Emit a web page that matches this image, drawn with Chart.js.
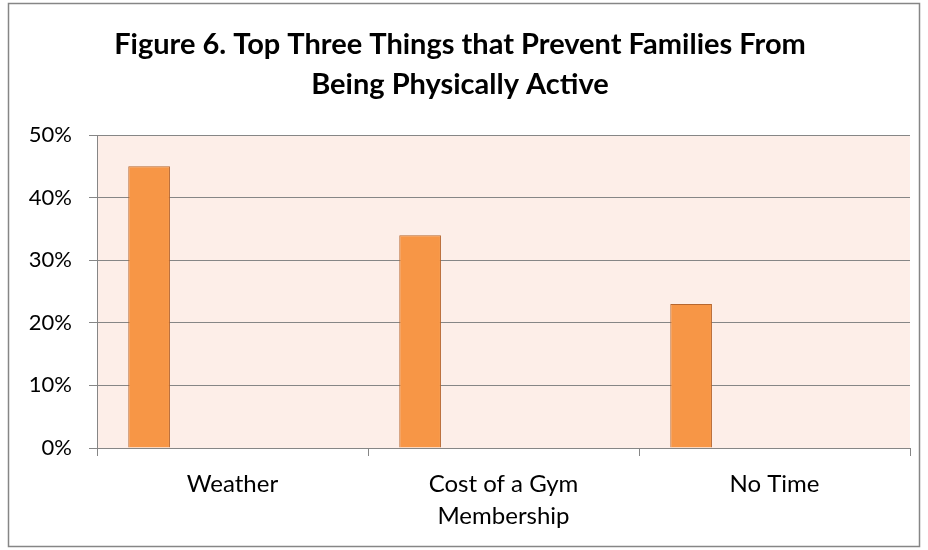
<!DOCTYPE html>
<html><head><meta charset="utf-8">
<script src="https://cdn.jsdelivr.net/npm/chart.js@4/dist/chart.umd.min.js"></script>
<style>html,body{margin:0;padding:0;background:#fff}#wrap{width:928px;height:550px}</style>
</head><body><div id="wrap"><canvas id="c" width="928" height="550"></canvas></div>
<script>
const titleLines = ['Figure 6. Top Three Things that Prevent Families From', 'Being Physically Active'];
const categories = ['Weather', ['Cost of a Gym', 'Membership'], 'No Time'];
const percentValues = [45, 34, 23];
const emptySeries = [null, null, null];
const yMin = 0, yMax = 50, yStep = 10;

const FONT = 'Lato, "Open Sans", sans-serif';

const framePlugin = {
  id: 'frame',
  beforeDraw(chart) {
    const {ctx, chartArea: a, width, height} = chart;
    ctx.save();
    ctx.fillStyle = '#ffffff';
    ctx.fillRect(0, 0, width, height);
    ctx.fillStyle = '#FDEEE8';
    ctx.fillRect(a.left, a.top, a.right - a.left, a.bottom - a.top);
    ctx.strokeStyle = '#868686';
    ctx.lineWidth = 1.5;
    ctx.strokeRect(8.5, 3.5, 911, 543);
    ctx.restore();
  }
};

const barStyle = {backgroundColor: '#F79646', borderColor: '#B7672F', borderWidth: 1};

new Chart(document.getElementById('c'), {
  type: 'bar',
  data: {
    labels: categories,
    datasets: [
      Object.assign({label: 'Percent', data: percentValues}, barStyle),
      Object.assign({label: 's2', data: emptySeries}, barStyle),
      Object.assign({label: 's3', data: emptySeries}, barStyle),
      Object.assign({label: 's4', data: emptySeries}, barStyle),
      Object.assign({label: 's5', data: emptySeries}, barStyle)
    ]
  },
  options: {
    responsive: false,
    animation: false,
    devicePixelRatio: 1,
    categoryPercentage: 5 / 6.5,
    barPercentage: 1,
    layout: {padding: {left: 10, right: 18, top: 0, bottom: 0}},
    plugins: {
      legend: {display: false},
      tooltip: {enabled: false},
      title: {
        display: true,
        text: titleLines,
        color: '#000',
        font: {family: FONT, size: 29, weight: 'bold', lineHeight: 40 / 29},
        padding: {top: 25, bottom: 30}
      }
    },
    scales: {
      x: {
        afterFit(s) { s.height = 102; },
        grid: {offset: true, drawOnChartArea: false, drawTicks: true, tickLength: 8, color: '#868686', lineWidth: 1},
        border: {display: true, color: '#868686', width: 1},
        ticks: {color: '#000', font: {family: FONT, size: 24, lineHeight: 32 / 24}, padding: 12, maxRotation: 0, autoSkip: false}
      },
      y: {
        min: yMin, max: yMax,
        afterFit(s) { s.width = 87; },
        grid: {color: '#868686', lineWidth: 1, tickLength: 8},
        border: {display: true, color: '#868686', width: 1},
        ticks: {stepSize: yStep, color: '#000', padding: 17, font: {family: FONT, size: 22}, callback: v => v + '%'}
      }
    }
  },
  plugins: [framePlugin]
});
</script></body></html>
